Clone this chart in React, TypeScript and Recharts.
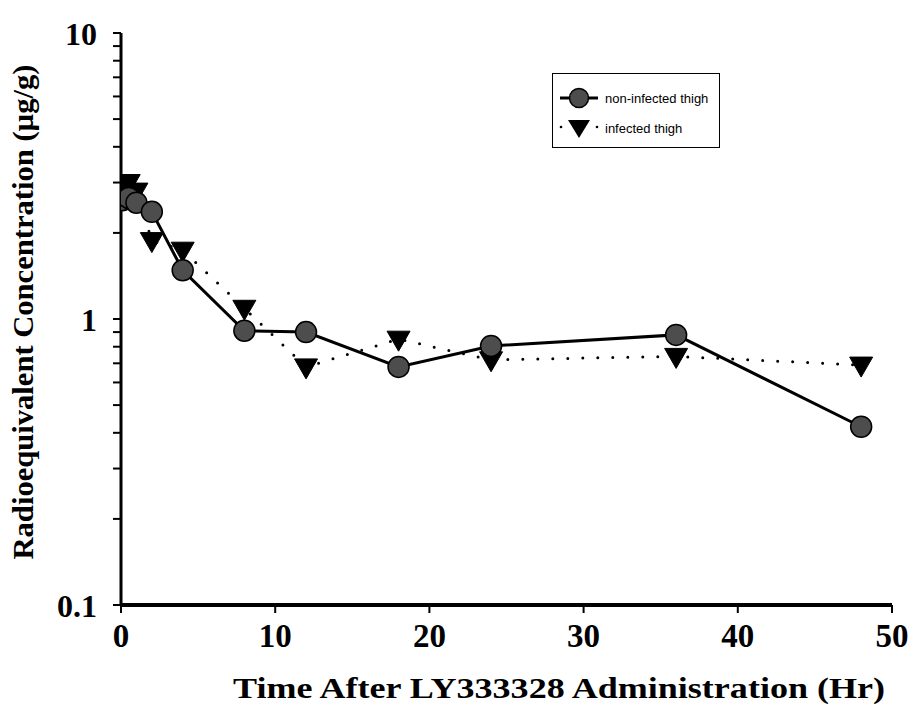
import React from "react";
import { LineChart, Line, XAxis, YAxis, Legend, Label } from "recharts";

const timesHr = [0.083, 0.5, 1, 2, 4, 8, 12, 18, 24, 36, 48];
const nonInfectedThigh = [2.6, 2.65, 2.55, 2.37, 1.48, 0.91, 0.9, 0.68, 0.805, 0.88, 0.42];
const infectedThigh = [3.0, 3.0, 2.8, 1.88, 1.74, 1.09, 0.68, 0.85, 0.72, 0.74, 0.69];

const xTicks = [0, 10, 20, 30, 40, 50];
const yTicks = [
  0.1, 0.2, 0.3, 0.4, 0.5, 0.6, 0.7, 0.8, 0.9,
  1, 2, 3, 4, 5, 6, 7, 8, 9, 10,
];
const yMajorLabels: Record<string, string> = { "0.1": "0.1", "1": "1", "10": "10" };

const seriesNames = ["non-infected thigh", "infected thigh"];
const xTitle = "Time After LY333328 Administration (Hr)";
const yTitle = "Radioequivalent Concentration (\u00b5g/g)";

const data = timesHr.map((t, i) => ({
  t,
  nonInfected: nonInfectedThigh[i],
  infected: infectedThigh[i],
}));

const SERIF = "'Liberation Serif', 'Times New Roman', serif";
const SANS = "'Liberation Sans', Arial, sans-serif";

const CircleDot = (props: any) => {
  const { cx, cy, index } = props;
  if (cx == null || cy == null) return <g key={`c${index}`} />;
  return (
    <circle key={`c${index}`} cx={cx} cy={cy} r={10.5} fill="#4d4d4d" stroke="#000" strokeWidth={1.5} />
  );
};

const TriDot = (props: any) => {
  const { cx, cy, index } = props;
  if (cx == null || cy == null) return <g key={`t${index}`} />;
  const w = 11.5;
  const top = cy - 8;
  const bot = cy + 12;
  return (
    <polygon
      key={`t${index}`}
      points={`${cx - w},${top} ${cx + w},${top} ${cx},${bot}`}
      fill="#000"
      stroke="#000"
      strokeWidth={1}
    />
  );
};

const YTick = (props: any) => {
  const { x, y, payload } = props;
  const lbl = yMajorLabels[String(payload.value)];
  if (!lbl) return <g />;
  return (
    <text x={x} y={y} dy="0.36em" textAnchor="end" fontFamily={SERIF} fontWeight="bold" fontSize={32} fill="#000">
      {lbl}
    </text>
  );
};

const XTick = (props: any) => {
  const { x, y, payload } = props;
  return (
    <text x={x} y={y} dy={26} textAnchor="middle" fontFamily={SERIF} fontWeight="bold" fontSize={33} fill="#000">
      {payload.value}
    </text>
  );
};

const LegendBox = () => (
  <div
    style={{
      border: "1.5px solid #000",
      background: "#fff",
      width: 168,
      height: 75,
      boxSizing: "border-box",
      fontFamily: SANS,
      fontSize: 13,
      color: "#000",
      paddingTop: 11,
    }}
  >
    <div style={{ display: "flex", alignItems: "center", height: 26 }}>
      <svg width={44} height={24} style={{ marginLeft: 5 }}>
        <line x1={2} y1={12} x2={40} y2={12} stroke="#000" strokeWidth={3} />
        <circle cx={21} cy={12} r={9.5} fill="#4d4d4d" stroke="#000" strokeWidth={1.5} />
      </svg>
      <span style={{ marginLeft: 3 }}>{seriesNames[0]}</span>
    </div>
    <div style={{ display: "flex", alignItems: "center", height: 26, marginTop: 4 }}>
      <svg width={44} height={24} style={{ marginLeft: 5 }}>
        <circle cx={3} cy={11} r={1.3} fill="#000" />
        <circle cx={39} cy={11} r={1.3} fill="#000" />
        <polygon points="10,4 32,4 21,22" fill="#000" />
      </svg>
      <span style={{ marginLeft: 3 }}>{seriesNames[1]}</span>
    </div>
  </div>
);

export default function App() {
  return (
    <div style={{ position: "absolute", left: 0, top: 0, width: 911, height: 707, background: "#fff" }}>
      <LineChart width={911} height={707} data={data} margin={{ top: 33, right: 19, left: 0, bottom: 0 }}>
        <XAxis
          dataKey="t"
          type="number"
          domain={[0, 50]}
          ticks={xTicks}
          allowDataOverflow
          height={102}
          axisLine={{ stroke: "#000", strokeWidth: 4 }}
          tickLine={{ stroke: "#000", strokeWidth: 2 }}
          tickSize={8}
          tickMargin={8}
          tick={<XTick />}
        >
          <Label
            content={() => (
              <text
                x={233}
                y={698}
                textAnchor="start"
                textLength={652}
                lengthAdjust="spacingAndGlyphs"
                fontFamily={SERIF}
                fontWeight="bold"
                fontSize={30}
                fill="#000"
              >
                {xTitle}
              </text>
            )}
          />
        </XAxis>
        <YAxis
          type="number"
          scale="log"
          domain={[0.1, 10]}
          ticks={yTicks}
          allowDataOverflow
          width={121}
          interval={0}
          axisLine={{ stroke: "#000", strokeWidth: 3 }}
          tickLine={{ stroke: "#000", strokeWidth: 2 }}
          tickSize={8}
          tickMargin={16}
          tick={<YTick />}
        >
          <Label
            content={() => (
              <text
                x={22}
                y={312}
                transform="rotate(-90 22 312)"
                textAnchor="middle"
                dominantBaseline="central"
                textLength={495}
                lengthAdjust="spacingAndGlyphs"
                fontFamily={SERIF}
                fontWeight="bold"
                fontSize={30}
                fill="#000"
              >
                {yTitle}
              </text>
            )}
          />
        </YAxis>
        <Legend
          content={<LegendBox />}
          layout="horizontal"
          verticalAlign="middle"
          align="center"
          wrapperStyle={{ position: "absolute", left: 552, top: 73, width: 168, height: 75 }}
        />
        <Line
          dataKey="infected"
          name={seriesNames[1]}
          stroke="#000"
          strokeWidth={3}
          strokeDasharray="0 15"
          strokeLinecap="round"
          dot={TriDot}
          activeDot={false}
          isAnimationActive={false}
        />
        <Line
          dataKey="nonInfected"
          name={seriesNames[0]}
          stroke="#000"
          strokeWidth={3}
          dot={CircleDot}
          activeDot={false}
          isAnimationActive={false}
        />
      </LineChart>
    </div>
  );
}
